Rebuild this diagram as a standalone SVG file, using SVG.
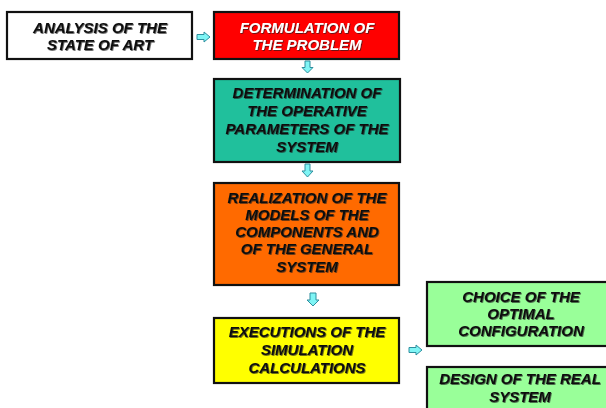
<svg xmlns="http://www.w3.org/2000/svg" width="606" height="408" viewBox="0 0 606 408">
<defs>
<filter id="sh" x="-10%" y="-20%" width="120%" height="140%">
<feDropShadow dx="0.8" dy="0.8" stdDeviation="0.6" flood-color="#222" flood-opacity="0.8"/>
</filter>
</defs>
<style>
.box{stroke:#111;stroke-width:2.2}
.t{font-family:"Liberation Sans",Arial,sans-serif;font-weight:bold;font-style:italic;font-size:15px;text-anchor:middle;fill:#111;filter:url(#sh)}
.w{fill:#fff}
.arr{fill:#7ff5f5;stroke:#2f8f9f;stroke-width:1}
</style>
<rect width="606" height="408" fill="#fff"/>
<g id="connectors">
<path class="arr" d="M197,34.5 H204 V32 L210,37 L204,42 V39.5 H197 Z"/>
<path class="arr" d="M305,61 H310 V67.5 H313 L307.5,73 L302,67.5 H305 Z"/>
<path class="arr" d="M305,164 H310 V171 H313 L307.5,177 L302,171 H305 Z"/>
<path class="arr" d="M310,293 H316 V300 H319 L313,306 L307,300 H310 Z"/>
<path class="arr" d="M409,347.5 H416 V345 L422,350 L416,355 V352.5 H409 Z"/>
</g>
<g id="analysis">
<rect class="box" x="7" y="12" width="185" height="47" fill="#fff"/>
<text class="t" x="100" y="33">ANALYSIS OF THE</text>
<text class="t" x="100" y="50">STATE OF ART</text>
</g>
<g id="formulation">
<rect class="box" x="214" y="12" width="185" height="47" fill="#ff0000"/>
<text class="t w" x="307" y="33">FORMULATION OF</text>
<text class="t w" x="307" y="50">THE PROBLEM</text>
</g>
<g id="determination">
<rect class="box" x="214" y="79" width="186" height="83" fill="#20c09c"/>
<text class="t" x="307" y="98">DETERMINATION OF</text>
<text class="t" x="307" y="116">THE OPERATIVE</text>
<text class="t" x="307" y="134">PARAMETERS OF THE</text>
<text class="t" x="307" y="152">SYSTEM</text>
</g>
<g id="realization">
<rect class="box" x="214" y="183" width="185" height="102" fill="#ff6a00"/>
<text class="t" x="307" y="203">REALIZATION OF THE</text>
<text class="t" x="307" y="220">MODELS OF THE</text>
<text class="t" x="307" y="237">COMPONENTS AND</text>
<text class="t" x="307" y="254">OF THE GENERAL</text>
<text class="t" x="307" y="272">SYSTEM</text>
</g>
<g id="executions">
<rect class="box" x="214" y="318" width="185" height="65" fill="#ffff00"/>
<text class="t" x="307" y="337">EXECUTIONS OF THE</text>
<text class="t" x="307" y="355">SIMULATION</text>
<text class="t" x="307" y="373">CALCULATIONS</text>
</g>
<g id="choice">
<rect class="box" x="427" y="282" width="190" height="64" fill="#99ff99"/>
<text class="t" x="521" y="302">CHOICE OF THE</text>
<text class="t" x="521" y="319">OPTIMAL</text>
<text class="t" x="521" y="336">CONFIGURATION</text>
</g>
<g id="design">
<rect class="box" x="427" y="367" width="190" height="55" fill="#99ff99"/>
<text class="t" x="520" y="384">DESIGN OF THE REAL</text>
<text class="t" x="520" y="402">SYSTEM</text>
</g>
</svg>
